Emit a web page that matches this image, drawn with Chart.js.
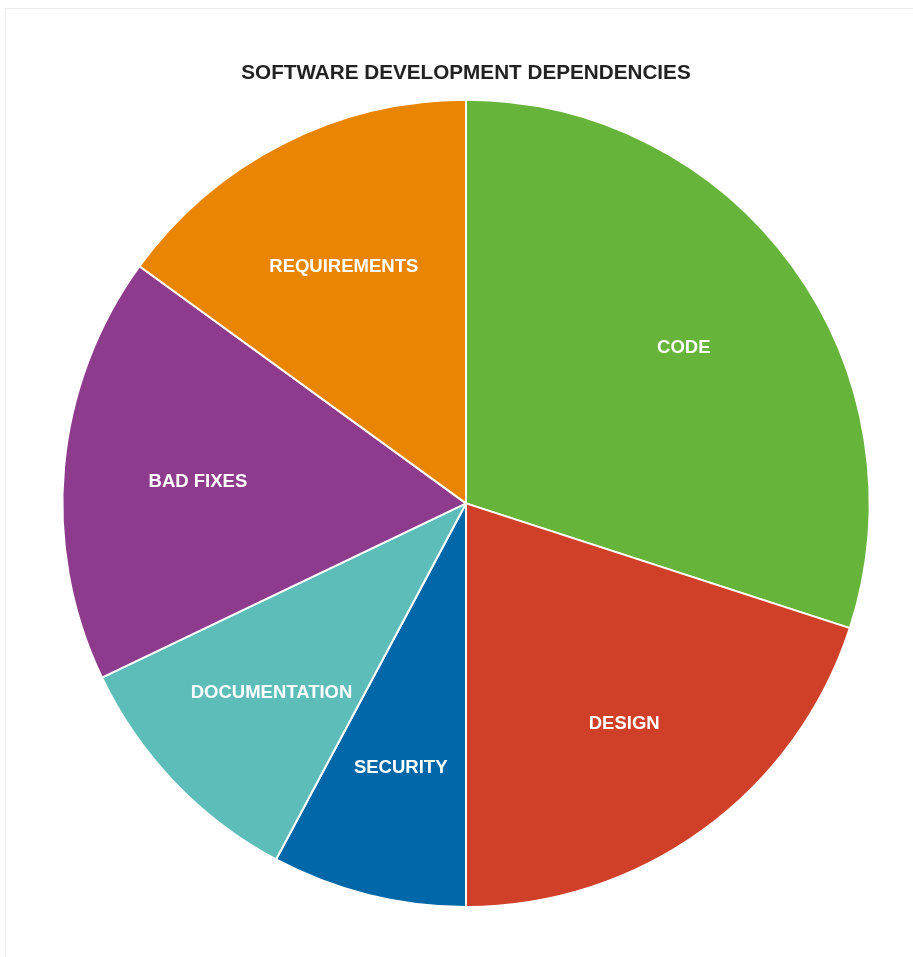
<!DOCTYPE html>
<html lang="en">
<head>
    <meta charset="UTF-8">
    <title>Software Development Dependencies</title>
    <script src="https://cdn.jsdelivr.net/npm/chart.js@4"></script>
    <style>
        body {
            margin: 0;
            background: #fff;
            font-family: "Liberation Sans", Arial, sans-serif;
        }

        #frame {
            position: absolute;
            left: 5px;
            top: 8px;
            width: 1000px;
            height: 1000px;
            border: 1px solid #eeeeee;
        }

        #wrap {
            position: absolute;
            left: 0;
            top: 0;
            width: 913px;
            height: 957px;
        }
    </style>
</head>
<body>
    <div id="frame"></div>
    <div id="wrap">
        <canvas id="pieChart"></canvas>
    </div>

    <script>
        const categories = ['CODE', 'DESIGN', 'SECURITY', 'DOCUMENTATION', 'BAD FIXES', 'REQUIREMENTS'];
        const shares = [30, 20, 7.8, 10.1, 17.1, 15];
        const sliceColors = ['#67b43a', '#d03f28', '#0068a8', '#5dbdb8', '#8f3b8d', '#e98500'];

        // white labels inside each slice, about two thirds of the way out
        const sliceLabels = {
            id: 'sliceLabels',
            afterDatasetsDraw(chart) {
                const ctx = chart.ctx;
                const meta = chart.getDatasetMeta(0);
                ctx.save();
                ctx.fillStyle = '#ffffff';
                ctx.font = 'bold 18.5px "Liberation Sans", Arial, sans-serif';
                ctx.textAlign = 'center';
                ctx.textBaseline = 'middle';
                meta.data.forEach((arc, i) => {
                    const p = arc.getProps(['x', 'y', 'startAngle', 'endAngle', 'outerRadius'], true);
                    const mid = (p.startAngle + p.endAngle) / 2;
                    const r = p.outerRadius * 0.667;
                    ctx.fillText(chart.data.labels[i], p.x + Math.cos(mid) * r, p.y + Math.sin(mid) * r + 3);
                });
                ctx.restore();
            }
        };

        new Chart(document.getElementById('pieChart'), {
            type: 'pie',
            data: {
                labels: categories,
                datasets: [{
                    data: shares,
                    backgroundColor: sliceColors,
                    borderColor: '#ffffff',
                    borderWidth: 2
                }]
            },
            options: {
                responsive: true,
                maintainAspectRatio: false,
                animation: false,
                layout: {
                    padding: { left: 19, right: 0, top: 0, bottom: 49 }
                },
                plugins: {
                    legend: { display: false },
                    tooltip: { enabled: false },
                    title: {
                        display: true,
                        text: 'SOFTWARE DEVELOPMENT DEPENDENCIES',
                        color: '#222222',
                        font: { family: '"Liberation Sans", Arial, sans-serif', size: 20.7, weight: 'bold', lineHeight: 1.2 },
                        padding: { top: 61, bottom: 13 }
                    }
                }
            },
            plugins: [sliceLabels]
        });
    </script>
</body>
</html>
